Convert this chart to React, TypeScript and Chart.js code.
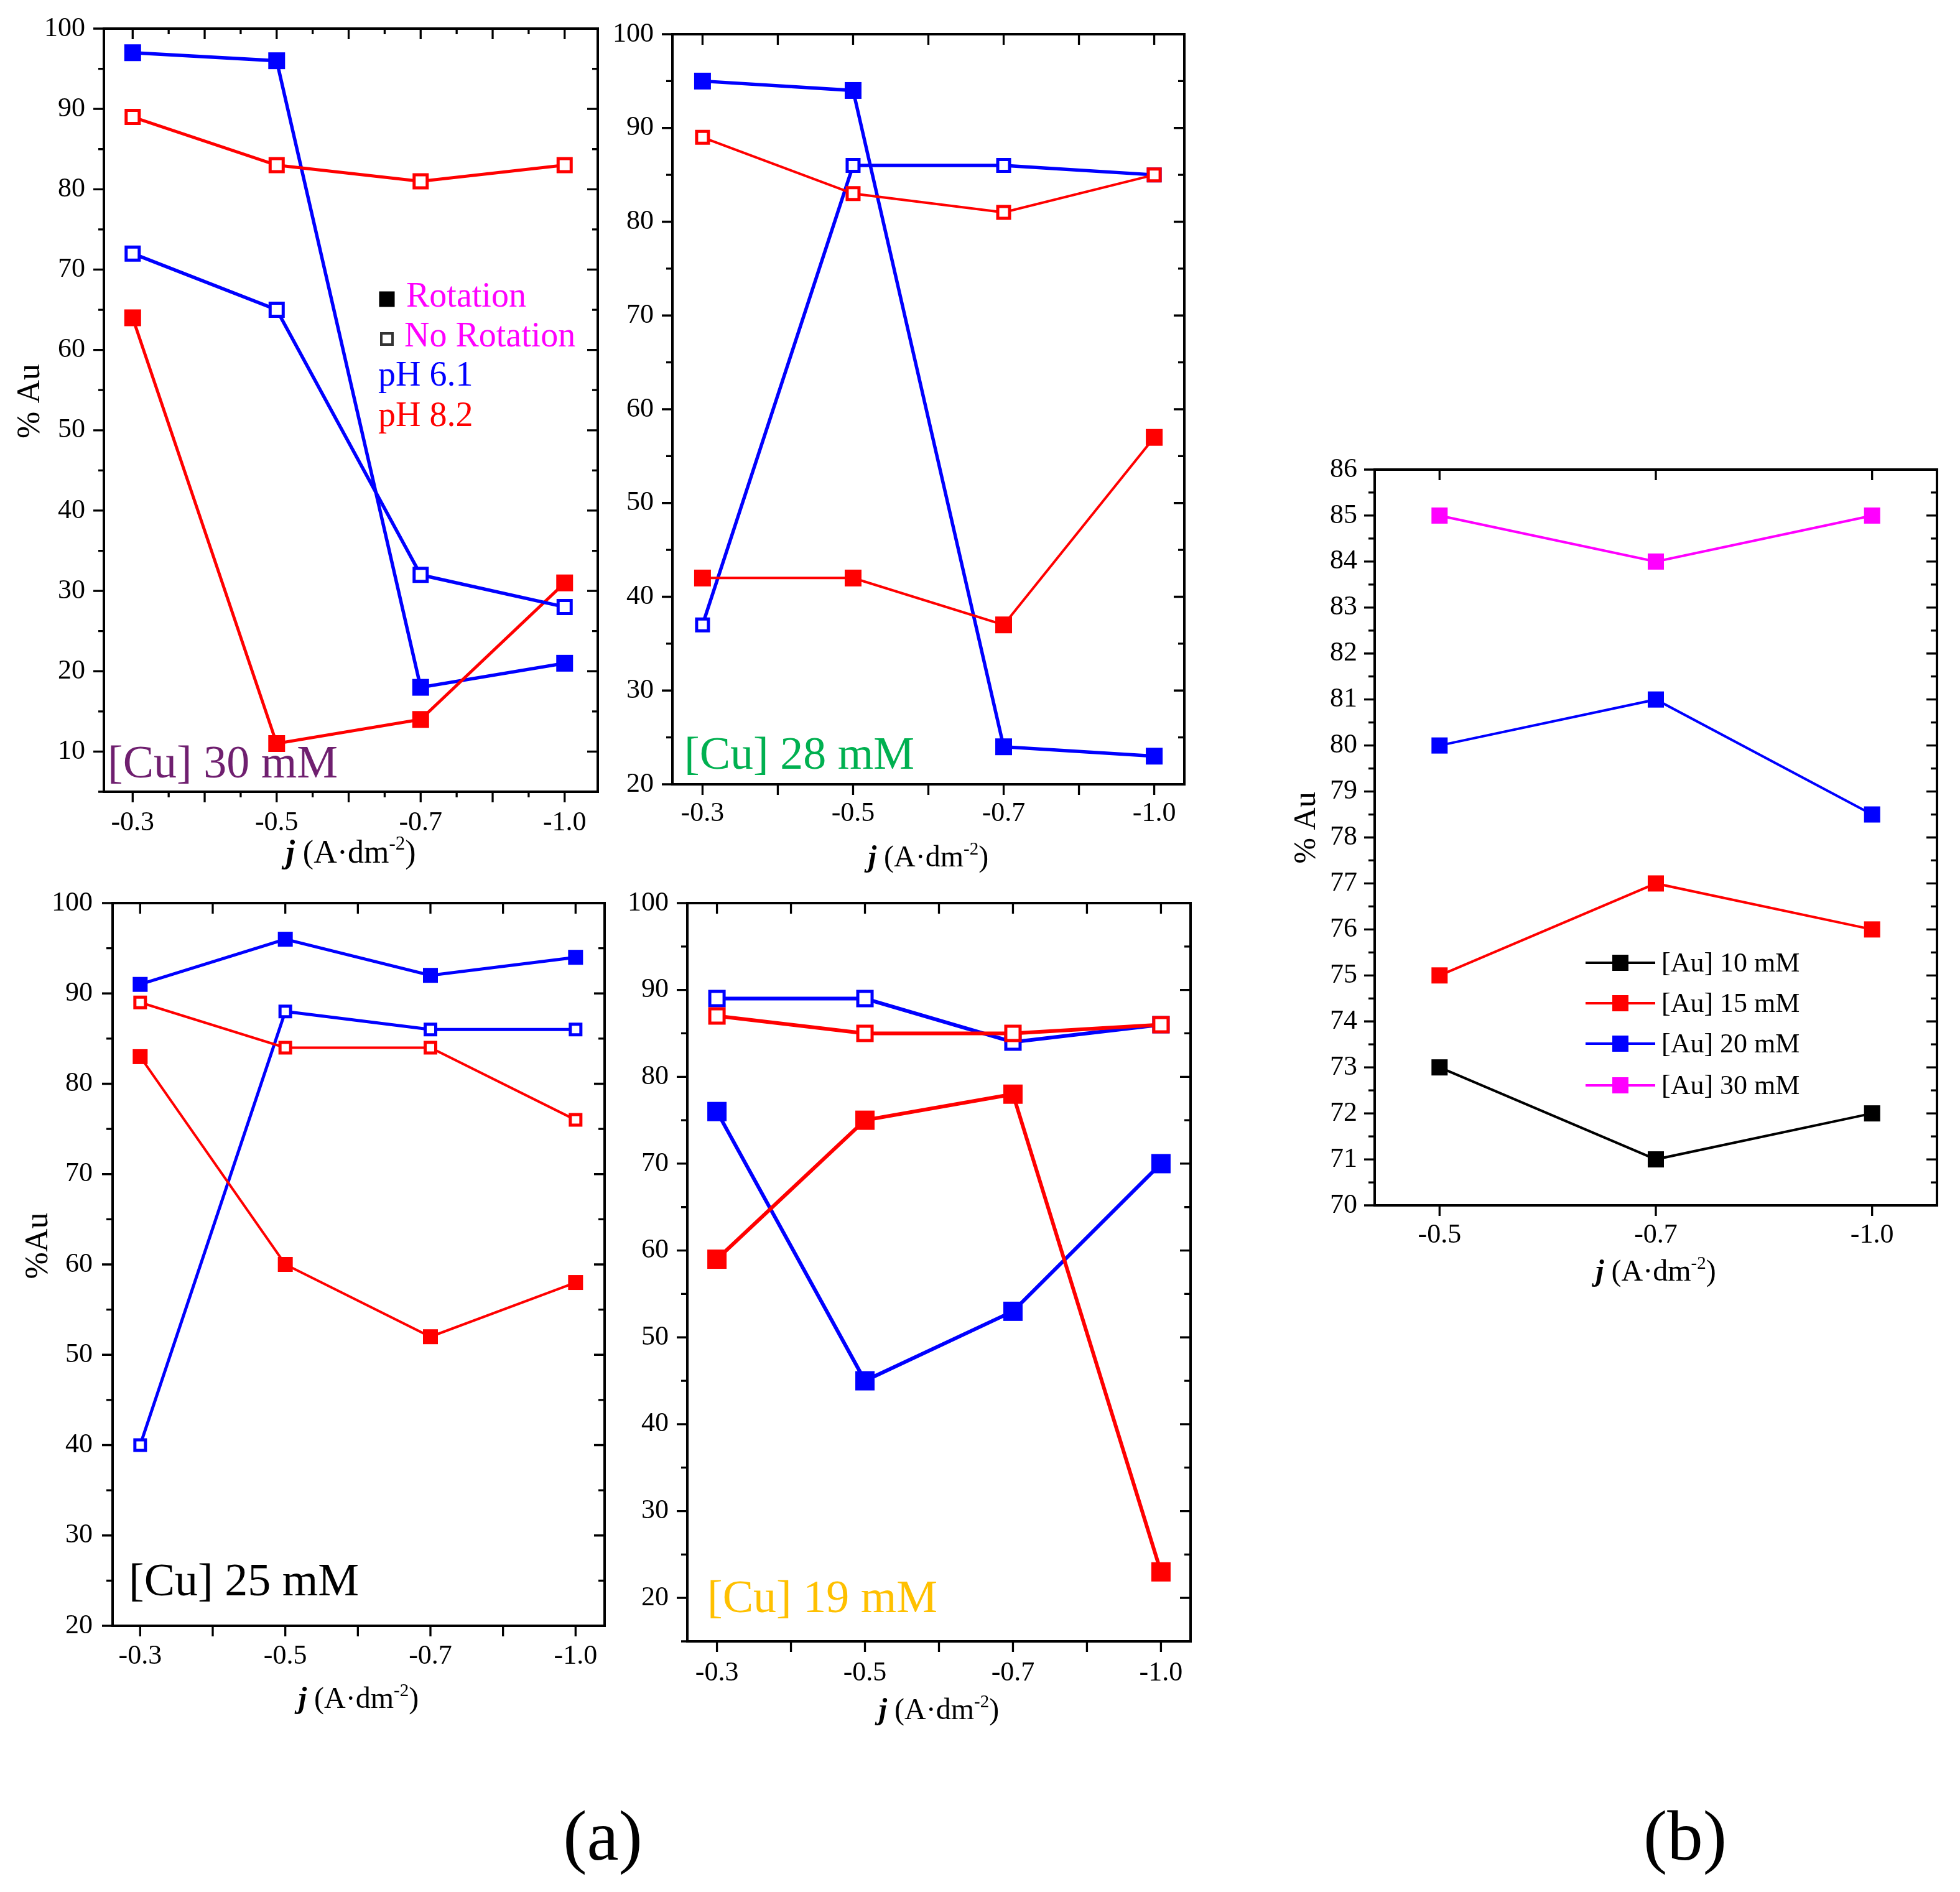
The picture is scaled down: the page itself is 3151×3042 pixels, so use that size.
import { useEffect, useRef } from "react"
import { Chart, registerables } from "chart.js"

Chart.register(...registerables)

const SERIF = "'Liberation Serif', 'Times New Roman', serif"
const BLUE = "#0000ff"
const RED = "#ff0000"
const MAGENTA = "#ff00ff"
const BLACK = "#000000"

// current density categories, j (A·dm-2)
const jLabels = ["-0.3", "-0.5", "-0.7", "-1.0"]
const jLabelsB = ["-0.5", "-0.7", "-1.0"]

// (a) [Cu] 30 mM
const cu30RotPh61 = [97, 96, 18, 21]
const cu30NoRotPh61 = [72, 65, 32, 28]
const cu30RotPh82 = [64, 11, 14, 31]
const cu30NoRotPh82 = [89, 83, 81, 83]

// (a) [Cu] 28 mM
const cu28RotPh61 = [95, 94, 24, 23]
const cu28NoRotPh61 = [37, 86, 86, 85]
const cu28RotPh82 = [42, 42, 37, 57]
const cu28NoRotPh82 = [89, 83, 81, 85]

// (a) [Cu] 25 mM
const cu25RotPh61 = [91, 96, 92, 94]
const cu25NoRotPh61 = [40, 88, 86, 86]
const cu25RotPh82 = [83, 60, 52, 58]
const cu25NoRotPh82 = [89, 84, 84, 76]

// (a) [Cu] 19 mM
const cu19RotPh61 = [76, 45, 53, 70]
const cu19NoRotPh61 = [89, 89, 84, 86]
const cu19RotPh82 = [59, 75, 78, 23]
const cu19NoRotPh82 = [87, 85, 85, 86]

// (b) gold concentration
const au10 = [73, 71, 72]
const au15 = [75, 77, 76]
const au20 = [80, 81, 78.5]
const au30 = [85, 84, 85]

// tick labels
const yTicks10 = [10, 20, 30, 40, 50, 60, 70, 80, 90, 100]
const yTicks20 = [20, 30, 40, 50, 60, 70, 80, 90, 100]
const yTicksB = [70, 71, 72, 73, 74, 75, 76, 77, 78, 79, 80, 81, 82, 83, 84, 85, 86]

interface Series {
  data: number[]
  color: string
  open: boolean
  width: number
  size: number
  name?: string
}

interface Note {
  text: string
  x: number
  y: number
  color: string
  size: number
}

interface Panel {
  id: string
  labels: string[]
  series: Series[]
  box: [number, number, number, number]
  ml: number
  mt: number
  mr: number
  mb: number
  xRange: [number, number]
  yRange: [number, number]
  yLabels: number[]
  yMajor: number
  yMinor: number
  xMajor: number
  xMinor: number
  majorLen: number
  minorLen: number
  xPad: number
  yPad: number
  xTitleY: number
  xTitleSize: number
  yTitle?: { text: string; x: number; y: number; size: number }
  notes: Note[]
  keySquares?: { x: number; y: number; size: number; open: boolean }[]
  lineKey?: { x0: number; x1: number; rows: number[]; textX: number; size: number }
}

const filled = (data: number[], color: string, width: number, size: number, name?: string): Series => ({
  data, color, open: false, width, size, name,
})
const open = (data: number[], color: string, width: number, size: number): Series => ({
  data, color, open: true, width, size,
})

const panels: Panel[] = [
  {
    id: "cu30",
    labels: jLabels,
    series: [
      open(cu30NoRotPh82, RED, 5, 26),
      open(cu30NoRotPh61, BLUE, 5.5, 26),
      filled(cu30RotPh82, RED, 5, 27),
      filled(cu30RotPh61, BLUE, 5.5, 27),
    ],
    box: [167, 46, 961, 1273],
    ml: 160, mt: 80, mr: 30, mb: 170,
    xRange: [-0.2, 3.23],
    yRange: [5, 100],
    yLabels: yTicks10,
    yMajor: 10, yMinor: 5,
    xMajor: 0.5, xMinor: 0.25,
    majorLen: 17, minorLen: 9,
    xPad: 24, yPad: 30,
    xTitleY: 1370, xTitleSize: 52,
    yTitle: { text: "% Au", x: 49, y: 645, size: 52 },
    notes: [
      { text: "[Cu] 30 mM", x: 173, y: 1250, color: "#6f1f6f", size: 74 },
      { text: "Rotation", x: 653, y: 493, color: MAGENTA, size: 56 },
      { text: "No Rotation", x: 650, y: 557, color: MAGENTA, size: 56 },
      { text: "pH 6.1", x: 608, y: 620, color: BLUE, size: 56 },
      { text: "pH 8.2", x: 608, y: 685, color: RED, size: 56 },
    ],
    keySquares: [
      { x: 622, y: 481, size: 25, open: false },
      { x: 622, y: 545, size: 22, open: true },
    ],
  },
  {
    id: "cu28",
    labels: jLabels,
    series: [
      open(cu28NoRotPh82, RED, 4, 24),
      filled(cu28RotPh82, RED, 4, 27),
      open(cu28NoRotPh61, BLUE, 5.5, 24),
      filled(cu28RotPh61, BLUE, 5.5, 27),
    ],
    box: [1081, 55, 1904, 1261],
    ml: 110, mt: 80, mr: 30, mb: 170,
    xRange: [-0.2, 3.2],
    yRange: [20, 100],
    yLabels: yTicks20,
    yMajor: 10, yMinor: 5,
    xMajor: 0.5, xMinor: 0.5,
    majorLen: 17, minorLen: 10,
    xPad: 21, yPad: 30,
    xTitleY: 1377, xTitleSize: 48,
    notes: [{ text: "[Cu] 28 mM", x: 1100, y: 1236, color: "#00b050", size: 74 }],
  },
  {
    id: "cu25",
    labels: jLabels,
    series: [
      open(cu25NoRotPh82, RED, 4, 22),
      filled(cu25RotPh82, RED, 4, 24),
      open(cu25NoRotPh61, BLUE, 5, 22),
      filled(cu25RotPh61, BLUE, 5, 24),
    ],
    box: [181, 1452, 972, 2614],
    ml: 170, mt: 80, mr: 30, mb: 170,
    xRange: [-0.19, 3.2],
    yRange: [20, 100],
    yLabels: yTicks20,
    yMajor: 10, yMinor: 5,
    xMajor: 0.5, xMinor: 0.5,
    majorLen: 17, minorLen: 10,
    xPad: 23, yPad: 32,
    xTitleY: 2730, xTitleSize: 48,
    yTitle: { text: "%Au", x: 62, y: 2003, size: 52 },
    notes: [{ text: "[Cu] 25 mM", x: 207, y: 2565, color: BLACK, size: 74 }],
  },
  {
    id: "cu19",
    labels: jLabels,
    series: [
      open(cu19NoRotPh82, RED, 6, 28),
      open(cu19NoRotPh61, BLUE, 6, 28),
      filled(cu19RotPh82, RED, 6, 31),
      filled(cu19RotPh61, BLUE, 6, 31),
    ],
    box: [1105, 1452, 1914, 2639],
    ml: 110, mt: 80, mr: 30, mb: 170,
    xRange: [-0.2, 3.2],
    yRange: [15, 100],
    yLabels: yTicks20,
    yMajor: 10, yMinor: 5,
    xMajor: 0.5, xMinor: 0.5,
    majorLen: 17, minorLen: 10,
    xPad: 25, yPad: 30,
    xTitleY: 2748, xTitleSize: 48,
    notes: [{ text: "[Cu] 19 mM", x: 1137, y: 2592, color: "#ffc000", size: 74 }],
  },
  {
    id: "au",
    labels: jLabelsB,
    series: [
      filled(au10, BLACK, 4, 26, "[Au] 10 mM"),
      filled(au15, RED, 4, 26, "[Au] 15 mM"),
      filled(au20, BLUE, 4, 26, "[Au] 20 mM"),
      filled(au30, MAGENTA, 4, 26, "[Au] 30 mM"),
    ],
    box: [2210, 755, 3114, 1938],
    ml: 160, mt: 80, mr: 30, mb: 170,
    xRange: [-0.3, 2.3],
    yRange: [70, 86],
    yLabels: yTicksB,
    yMajor: 1, yMinor: 0.5,
    xMajor: 1, xMinor: 1,
    majorLen: 17, minorLen: 10,
    xPad: 22, yPad: 28,
    xTitleY: 2043, xTitleSize: 48,
    yTitle: { text: "% Au", x: 2101, y: 1331, size: 50 },
    notes: [],
    lineKey: { x0: 2549, x1: 2661, rows: [1548, 1613, 1678, 1745], textX: 2671, size: 44 },
  },
]

function drawJTitle(ctx: CanvasRenderingContext2D, cx: number, cy: number, size: number) {
  const parts = [
    { t: "j", f: `italic bold ${size}px ${SERIF}`, dy: 0 },
    { t: " (A\u00b7dm", f: `${size}px ${SERIF}`, dy: 0 },
    { t: "-2", f: `${Math.round(size * 0.6)}px ${SERIF}`, dy: -size * 0.4 },
    { t: ")", f: `${size}px ${SERIF}`, dy: 0 },
  ]
  let total = 0
  const widths = parts.map((p) => {
    ctx.font = p.f
    const w = ctx.measureText(p.t).width
    total += w
    return w
  })
  let x = cx - total / 2
  const base = cy + size * 0.33
  ctx.textAlign = "left"
  ctx.textBaseline = "alphabetic"
  parts.forEach((p, i) => {
    ctx.font = p.f
    ctx.fillText(p.t, x, base + p.dy)
    x += widths[i]
  })
}

function PanelChart({ p }: { p: Panel }) {
  const ref = useRef<HTMLCanvasElement>(null)
  const [l, t, r, b] = p.box
  const ox = l - p.ml
  const oy = t - p.mt
  const w = r - l + p.ml + p.mr
  const h = b - t + p.mt + p.mb

  useEffect(() => {
    if (!ref.current) return

    const overlay = {
      id: "overlay",
      afterDraw(chart: Chart) {
        const ctx = chart.ctx
        const a = chart.chartArea
        const xs = chart.scales.x
        const ys = chart.scales.y
        ctx.save()
        ctx.fillStyle = BLACK
        ctx.strokeStyle = BLACK

        // ticks on all four sides: out on left/bottom, in on right/top
        ctx.lineWidth = 3.3
        ctx.beginPath()
        const yStart = Math.ceil(p.yRange[0] / p.yMinor - 1e-9)
        const yEnd = Math.floor(p.yRange[1] / p.yMinor + 1e-9)
        const yEvery = Math.round(p.yMajor / p.yMinor)
        for (let k = yStart; k <= yEnd; k++) {
          const len = k % yEvery === 0 ? p.majorLen : p.minorLen
          const y = ys.getPixelForValue(k * p.yMinor)
          ctx.moveTo(a.left - len, y)
          ctx.lineTo(a.left, y)
          ctx.moveTo(a.right - len, y)
          ctx.lineTo(a.right, y)
        }
        const xCount = Math.round((p.labels.length - 1) / p.xMinor)
        const xEvery = Math.round(p.xMajor / p.xMinor)
        for (let k = 0; k <= xCount; k++) {
          const len = k % xEvery === 0 ? p.majorLen : p.minorLen
          const x = xs.getPixelForValue(k * p.xMinor)
          ctx.moveTo(x, a.bottom)
          ctx.lineTo(x, a.bottom + len)
          ctx.moveTo(x, a.top)
          ctx.lineTo(x, a.top + len)
        }
        ctx.stroke()

        // frame
        ctx.lineWidth = 4
        ctx.strokeRect(a.left, a.top, a.right - a.left, a.bottom - a.top)

        // axis titles
        drawJTitle(ctx, (a.left + a.right) / 2, p.xTitleY - oy, p.xTitleSize)
        if (p.yTitle) {
          ctx.save()
          ctx.translate(p.yTitle.x - ox, p.yTitle.y - oy)
          ctx.rotate(-Math.PI / 2)
          ctx.font = `${p.yTitle.size}px ${SERIF}`
          ctx.textAlign = "center"
          ctx.textBaseline = "middle"
          ctx.fillText(p.yTitle.text, 0, 0)
          ctx.restore()
        }

        // notes
        ctx.textAlign = "left"
        ctx.textBaseline = "alphabetic"
        p.notes.forEach((n) => {
          ctx.font = `${n.size}px ${SERIF}`
          ctx.fillStyle = n.color
          ctx.fillText(n.text, n.x - ox, n.y - oy)
        })

        // symbol key (rotation legend)
        p.keySquares?.forEach((s) => {
          const x = s.x - ox - s.size / 2
          const y = s.y - oy - s.size / 2
          if (s.open) {
            ctx.fillStyle = "#ffffff"
            ctx.fillRect(x, y, s.size, s.size)
            ctx.strokeStyle = "#333333"
            ctx.lineWidth = 4
            ctx.strokeRect(x + 2, y + 2, s.size - 4, s.size - 4)
          } else {
            ctx.fillStyle = BLACK
            ctx.fillRect(x, y, s.size, s.size)
          }
        })

        // line key (concentration legend)
        if (p.lineKey) {
          const k = p.lineKey
          p.series.forEach((s, i) => {
            const y = k.rows[i] - oy
            ctx.strokeStyle = s.color
            ctx.lineWidth = s.width
            ctx.beginPath()
            ctx.moveTo(k.x0 - ox, y)
            ctx.lineTo(k.x1 - ox, y)
            ctx.stroke()
            ctx.fillStyle = s.color
            const mx = (k.x0 + k.x1) / 2 - ox
            ctx.fillRect(mx - s.size / 2, y - s.size / 2, s.size, s.size)
            ctx.fillStyle = BLACK
            ctx.font = `${k.size}px ${SERIF}`
            ctx.textBaseline = "middle"
            ctx.fillText(s.name ?? "", k.textX - ox, y + 2)
          })
        }
        ctx.restore()
      },
    }

    const chart = new Chart(ref.current, {
      type: "line",
      data: {
        datasets: p.series.map((s) => {
          const ring = s.open ? 5 : 0
          return {
            data: s.data.map((v, i) => ({ x: i, y: v })),
            borderColor: s.color,
            borderWidth: s.width,
            backgroundColor: s.color,
            pointStyle: "rect" as const,
            pointRadius: (s.size - ring) / Math.SQRT2,
            pointHoverRadius: (s.size - ring) / Math.SQRT2,
            pointBorderWidth: ring,
            pointBackgroundColor: s.open ? "#ffffff" : s.color,
            pointBorderColor: s.color,
            tension: 0,
            fill: false,
          }
        }),
      },
      options: {
        animation: false,
        responsive: false,
        layout: { padding: { left: 0, top: p.mt, right: p.mr, bottom: 0 } },
        plugins: { legend: { display: false }, tooltip: { enabled: false } },
        scales: {
          x: {
            type: "linear",
            min: p.xRange[0],
            max: p.xRange[1],
            grid: { display: false, drawTicks: false },
            border: { display: false },
            ticks: {
              color: BLACK,
              font: { family: SERIF, size: 44 },
              padding: p.xPad,
              autoSkip: false,
              maxRotation: 0,
              callback: (v) => p.labels[Number(v)] ?? "",
            },
            afterBuildTicks: (s) => {
              s.ticks = p.labels.map((_, i) => ({ value: i }))
            },
            afterFit: (s) => {
              s.height = p.mb
            },
          },
          y: {
            type: "linear",
            min: p.yRange[0],
            max: p.yRange[1],
            grid: { display: false, drawTicks: false },
            border: { display: false },
            ticks: {
              color: BLACK,
              font: { family: SERIF, size: 44 },
              padding: p.yPad,
              callback: (v) => String(v),
            },
            afterBuildTicks: (s) => {
              s.ticks = p.yLabels.map((v) => ({ value: v }))
            },
            afterFit: (s) => {
              s.width = p.ml
            },
          },
        },
      },
      plugins: [overlay],
    })

    return () => {
      chart.destroy()
    }
  }, [p])

  return (
    <canvas
      ref={ref}
      width={w}
      height={h}
      style={{ position: "absolute", left: ox, top: oy, width: w, height: h }}
    />
  )
}

const figureLabel = (left: number): React.CSSProperties => ({
  position: "absolute",
  left,
  top: 2894,
  transform: "translateX(-50%)",
  fontFamily: SERIF,
  fontSize: 115,
  lineHeight: 1,
  color: BLACK,
  whiteSpace: "nowrap",
})

export default function App() {
  return (
    <div style={{ position: "absolute", left: 0, top: 0, width: 3151, height: 3042, background: "#ffffff", overflow: "hidden" }}>
      {panels.map((p) => (
        <PanelChart key={p.id} p={p} />
      ))}
      <div style={figureLabel(969)}>(a)</div>
      <div style={figureLabel(2709)}>(b)</div>
    </div>
  )
}
